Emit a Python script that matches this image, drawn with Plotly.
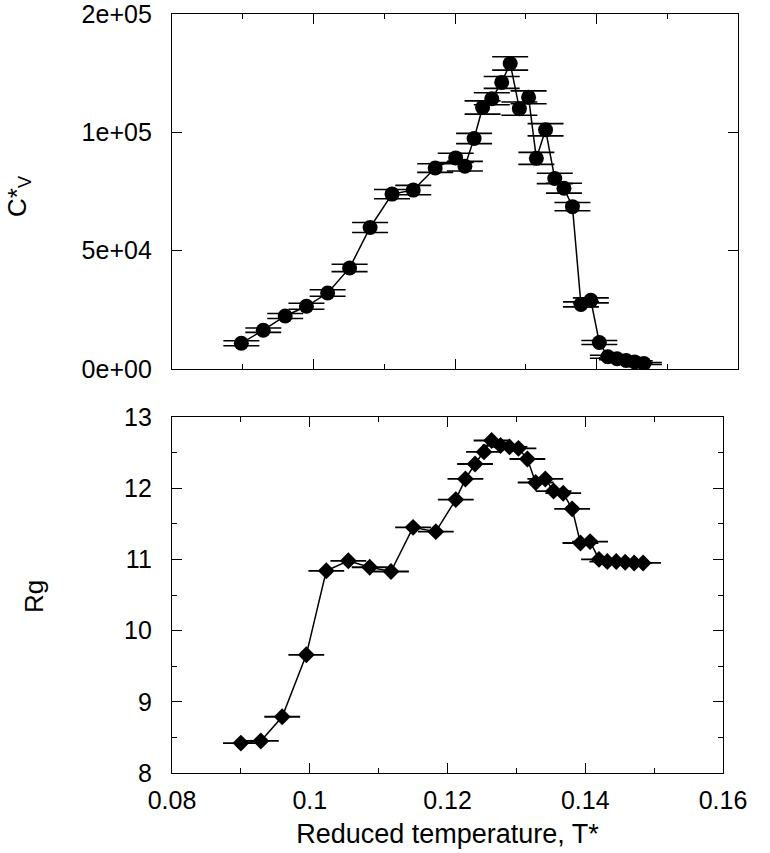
import plotly.graph_objects as go

# ---------------- data ----------------
T_cv = [0.0898, 0.0929, 0.0960, 0.0990, 0.1020, 0.1051, 0.1080, 0.1111, 0.1141, 0.1172,
        0.1201, 0.1214, 0.1227, 0.1239, 0.1252, 0.1266, 0.1278, 0.1291, 0.1304, 0.1315,
        0.1328, 0.1341, 0.1354, 0.1366, 0.1378, 0.1392, 0.1404, 0.1416, 0.1429, 0.1442,
        0.1454, 0.1467]
Cv = [10900, 16400, 22400, 26500, 32100, 42700, 59800, 73900, 75600, 84900,
      89200, 85700, 97400, 110500, 114200, 121100, 129100, 110000, 114800, 89000,
      101100, 80500, 76400, 68600, 27300, 29000, 11200, 5200, 4300, 3600,
      3000, 2300]
Cv_err = [1050, 920, 1050, 1260, 1390, 1550, 2100, 1970, 1970, 1810,
          1970, 2020, 2180, 2810, 2520, 2520, 2810, 2810, 2730, 2520,
          2600, 2180, 2100, 1760, 1050, 1050, 840, 630, 420, 420,
          420, 420]

T_rg = [0.0900, 0.0929, 0.0960, 0.0995, 0.1024, 0.1056, 0.1087, 0.1118, 0.1150, 0.1183,
        0.1212, 0.1226, 0.1240, 0.1253, 0.1264, 0.1277, 0.1290, 0.1303, 0.1316, 0.1328,
        0.1342, 0.1354, 0.1368, 0.1381, 0.1393, 0.1407, 0.1420, 0.1432, 0.1445, 0.1458,
        0.1471, 0.1484]
Rg = [8.42, 8.45, 8.79, 9.66, 10.84, 10.98, 10.89, 10.83, 11.45, 11.39,
      11.84, 12.13, 12.34, 12.51, 12.67, 12.60, 12.58, 12.56, 12.41, 12.08,
      12.13, 11.96, 11.93, 11.71, 11.23, 11.25, 11.00, 10.97, 10.97, 10.96,
      10.95, 10.95]
T_rg_err = 0.0026

cv_tickvals = [0, 50000, 100000, 150000]
cv_ticktext = ["0e+00", "5e+04", "1e+05", "2e+05"]

x_title = "Reduced temperature, T*"
cv_title = "C*<sub>V</sub>"
rg_title = "Rg"

# ---------------- figure ----------------
FONT = "Liberation Sans, Arial, sans-serif"
W, H = 770, 853
ML, MR, MT, MB = 172, 32, 14, 80
PW, PH = W - ML - MR, H - MT - MB


def px_x(p):
    return (p - ML) / PW


def px_y(p):
    return (H - MB - p) / PH


fig = go.Figure()

fig.add_trace(go.Scatter(
    x=T_cv, y=Cv, mode="lines+markers",
    line=dict(color="black", width=1.5),
    marker=dict(symbol="circle", size=15, color="black"),
    error_y=dict(type="data", array=Cv_err, visible=True, color="black",
                 thickness=1.6, width=18),
    xaxis="x", yaxis="y", showlegend=False))

fig.add_trace(go.Scatter(
    x=T_rg, y=Rg, mode="lines+markers",
    line=dict(color="black", width=1.5),
    marker=dict(symbol="diamond", size=13, color="black"),
    error_x=dict(type="constant", value=T_rg_err, visible=True, color="black",
                 thickness=1.8, width=0),
    xaxis="x2", yaxis="y2", showlegend=False))

axis_common = dict(
    showline=True, linecolor="black", linewidth=1.4, mirror="ticks",
    ticks="inside", ticklen=10, tickwidth=1.4, tickcolor="black",
    showgrid=False, zeroline=False,
    tickfont=dict(family=FONT, size=25, color="black"),
)

minor_x = dict(ticks="inside", ticklen=5, tickwidth=1.4, tickcolor="black",
               dtick=0.01, tick0=0.08, showgrid=False)

fig.update_layout(
    width=W, height=H,
    margin=dict(l=ML, r=MR, t=MT, b=MB, autoexpand=False),
    paper_bgcolor="white", plot_bgcolor="white",
    font=dict(family=FONT, color="black"),
    xaxis=dict(**axis_common, domain=[0, 1], range=[0.08, 0.16],
               tick0=0.08, dtick=0.02, showticklabels=False, anchor="y",
               minor=minor_x),
    yaxis=dict(**axis_common, domain=[px_y(369), 1], range=[0, 150000.5],
               tickvals=cv_tickvals, ticktext=cv_ticktext, anchor="x",
               ticklabelstandoff=14, ticklabeloverflow="allow"),
    xaxis2=dict(**axis_common, domain=[0, px_x(723)], range=[0.08, 0.16],
                tick0=0.08, dtick=0.02, anchor="y2", ticklabelstandoff=5,
                minor=minor_x,
                title=dict(text=x_title, font=dict(family=FONT, size=27, color="black"),
                           standoff=10)),
    yaxis2=dict(**axis_common, domain=[0, px_y(417)], range=[8, 13],
                dtick=1, anchor="x2", ticklabelstandoff=14,
                minor=dict(ticks="inside", ticklen=5, tickwidth=1.4,
                           tickcolor="black", dtick=0.5, showgrid=False)),
    annotations=[
        dict(text=cv_title, xref="paper", yref="paper",
             x=px_x(18), y=px_y(196), xanchor="center", yanchor="middle",
             textangle=-90, showarrow=False,
             font=dict(family=FONT, size=26, color="black")),
        dict(text=rg_title, xref="paper", yref="paper",
             x=px_x(34), y=px_y(597), xanchor="center", yanchor="middle",
             textangle=-90, showarrow=False,
             font=dict(family=FONT, size=26, color="black")),
    ],
)

fig.write_html("out.html",
               config={"displayModeBar": False},
               post_script="document.body.style.margin='0px';")
